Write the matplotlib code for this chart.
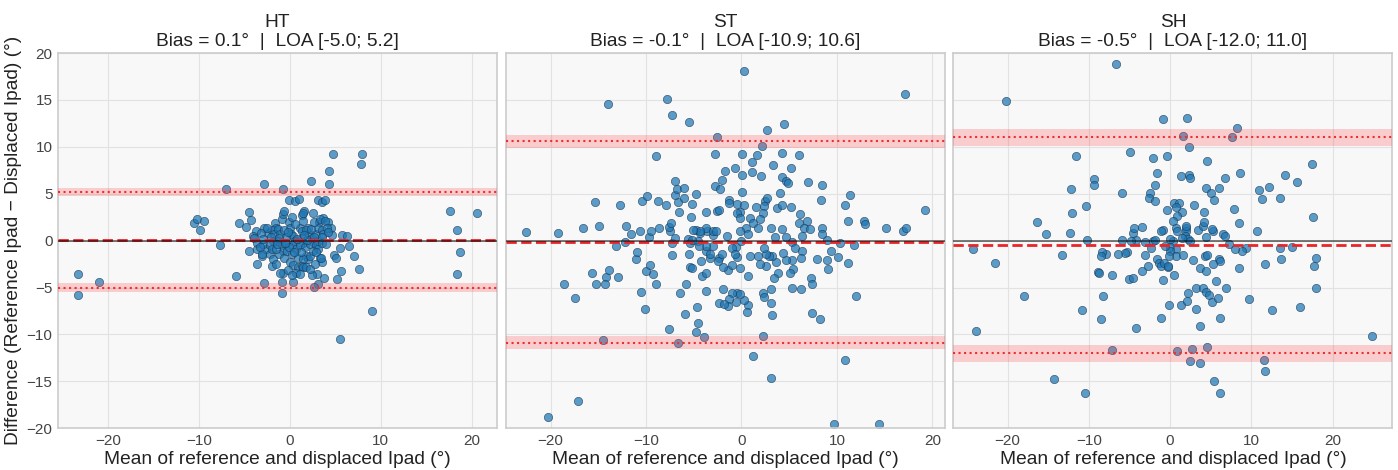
import numpy as np
import matplotlib
matplotlib.use("Agg")
import matplotlib.pyplot as plt

plt.rcParams['font.family'] = ['Liberation Sans', 'DejaVu Sans']

panel_names = ['HT', 'ST', 'SH']
bias = [0.1, -0.1, -0.5]
loa_low = [-5.0, -10.9, -12.0]
loa_high = [5.2, 10.6, 11.0]
# confidence band around each limit of agreement (lower, upper)
loa_low_ci = [(-5.45, -4.55), (-11.6, -10.2), (-12.9, -11.1)]
loa_high_ci = [(4.75, 5.65), (9.9, 11.3), (10.1, 11.9)]

# (mean, difference) pairs
ht_pts = np.array([
    (-23.3, -3.6), (-23.3, -5.8), (-21.0, -4.4), (-10.5, 1.9), (-10.2, 2.3), (-9.9, 1.1),
    (-9.4, 2.1), (-7.7, -0.5), (-7.0, 5.5), (-5.9, -3.8), (-5.6, 1.9), (-4.8, 1.5),
    (-4.5, 3.1), (-4.3, 2.2), (-4.5, -1.1), (-3.6, -2.5), (-2.8, 6.0), (-2.8, -4.5),
    (-0.7, 5.5), (-0.1, 4.3), (0.6, 4.2), (1.0, 4.4), (-0.9, -5.6), (-0.9, -4.4),
    (-0.7, -3.5), (0.4, -4.4), (2.3, 6.4), (1.6, 3.2), (2.6, 3.0), (3.1, 4.3), (3.6, 4.1),
    (3.9, 4.3), (4.3, 7.4), (4.3, 6.0), (4.8, 9.2), (7.9, 9.2), (7.8, 8.2), (3.7, 2.4),
    (4.2, 2.0), (4.5, 1.4), (4.6, 0.6), (5.8, 0.6), (6.3, 0.5), (6.5, -0.6), (5.5, -0.8),
    (4.9, -1.5), (5.1, -1.9), (7.1, -1.6), (7.6, -3.0), (5.6, -3.2), (5.2, -4.1), (3.8, -4.0),
    (3.0, -3.6), (2.5, -3.7), (3.1, -4.6), (2.7, -4.9), (3.3, -1.8), (3.5, -2.3), (9.0, -7.5),
    (5.5, -10.5), (17.6, 3.2), (18.4, 1.1), (18.7, -1.2), (18.4, -3.6), (20.6, 3.0),
    (-3.7, 1.0), (-4.0, 0.5), (-3.9, 0.3), (-3.6, -0.2), (-3.6, -0.9), (-3.1, -1.6),
    (-2.6, -0.9), (-2.9, -0.4), (-2.2, -1.4), (-2.4, 0.8), (-2.0, -2.7), (-1.8, -2.0),
    (-1.5, -2.5), (-1.6, 1.9), (-1.5, 1.4), (-1.9, 1.1), (-1.7, 0.7), (-1.3, 1.2),
    (-1.1, 0.7), (-0.9, 2.3), (-0.7, 2.8), (-0.6, 3.2), (-1.3, 0.0), (-0.9, -0.5),
    (-0.7, -1.1), (-1.2, -1.4), (-0.6, -1.8), (-0.3, -1.1), (-0.1, 2.0), (0.0, 1.4),
    (0.1, 0.7), (0.4, 0.5), (0.6, 0.0), (0.3, -0.5), (0.7, -0.9), (0.3, -1.4), (0.9, -1.8),
    (0.0, -2.3), (0.4, -2.6), (0.9, -2.8), (1.1, 1.4), (1.3, 1.0), (1.3, 0.3), (1.5, -0.2),
    (1.1, -0.5), (1.7, -0.7), (1.8, -1.6), (2.0, -2.0), (1.5, -2.0), (1.3, -2.7), (1.5, -2.8),
    (1.8, -2.8), (2.2, -1.6), (2.1, 0.7), (2.4, 0.3), (2.6, -0.1), (2.2, -0.4), (2.9, 0.7),
    (3.1, 0.0), (2.9, -0.5), (3.1, -0.9), (3.2, 2.0), (3.1, 1.4), (3.5, 1.1), (3.7, 0.7),
    (2.0, 1.4), (1.8, 1.1), (1.4, 2.7), (1.5, 3.0), (1.5, 2.1), (0.6, 1.8), (0.2, 2.5),
    (-0.6, 1.1), (-0.4, 0.4), (-1.8, 0.0), (-2.2, -0.5), (-3.0, -1.4), (-3.3, -0.7),
    (-1.1, -3.4), (0.7, -3.4), (-0.2, -3.1), (0.2, -3.7), (1.1, -3.6), (2.2, -3.0),
    (2.8, -2.5), (-2.8, 1.4), (-3.2, 0.8), (-2.5, 1.4), (-2.9, 0.2), (-1.9, -0.9),
    (-1.5, -0.9), (-0.4, -0.2), (-0.1, -0.7), (1.2, -1.2), (2.6, -1.1), (2.3, 1.2),
    (2.7, 2.0), (3.3, 2.3), (3.9, 2.1), (4.1, 1.4), (4.2, 0.9), (3.5, 0.4), (3.6, -0.2),
    (4.0, -0.4), (2.9, -1.2), (3.4, -1.8), (-1.2, 0.3), (-0.2, 0.9), (0.8, 0.2), (1.9, 0.1),
    (-2.1, 0.4), (-1.4, -0.4), (-0.5, -0.3), (0.5, -1.2), (1.6, 0.6), (2.7, 0.4),
])

st_pts = np.array([
    (-22.6, 0.9), (-19.2, 0.8), (-16.6, 1.3), (-15.3, 4.1), (-14.9, 1.6), (-14.0, 14.6),
    (-12.7, 3.8), (-12.1, 1.6), (-11.6, 0.7), (-12.2, -0.1), (-13.1, -0.6), (-15.7, -3.5),
    (-15.2, -4.6), (-14.2, -3.9), (-13.9, -3.1), (-14.3, -4.6), (-12.9, -3.9), (-18.6, -4.6),
    (-17.4, -6.1), (-20.3, -18.8), (-17.1, -17.1), (-14.5, -10.6), (-7.6, -9.4), (-6.6, -10.9),
    (-4.8, -9.7), (-3.9, -10.3), (-4.6, -8.8), (-4.7, -7.1), (-5.9, -7.8), (-10.1, -7.3),
    (-10.5, -5.5), (-9.0, -4.6), (-9.3, -3.6), (-10.0, -3.2), (-9.6, -2.6), (-11.0, -2.0),
    (-10.9, -1.2), (-9.7, 0.4), (-9.5, 1.0), (-10.6, 1.0), (-8.6, 1.3), (-10.4, 4.2),
    (-9.9, 4.8), (-8.9, 9.0), (-8.7, 4.2), (-7.9, 3.8), (-7.8, 15.1), (-7.3, 13.4),
    (-5.5, 12.7), (-2.6, 11.1), (-2.8, 9.2), (2.2, 10.1), (2.7, 11.8), (4.5, 12.4),
    (0.3, 18.1), (17.1, 15.6), (0.1, 9.2), (-0.7, 7.7), (0.1, 7.0), (1.1, 8.4), (1.6, 9.1),
    (1.1, 7.3), (2.0, 6.9), (3.3, 8.1), (4.3, 9.4), (5.2, 7.7), (6.0, 9.1), (4.2, 6.8),
    (4.7, 6.4), (4.9, 6.1), (7.0, 6.3), (8.4, 5.9), (8.3, 4.3), (11.4, 4.9), (10.8, 3.8),
    (11.2, 2.1), (12.8, 2.1), (12.9, 1.8), (15.1, 1.4), (16.9, 1.0), (17.2, 1.3), (19.2, 3.3),
    (10.3, -0.2), (11.8, -0.5), (11.2, -2.4), (10.1, -1.7), (9.4, -1.1), (9.0, 0.1),
    (9.0, -2.1), (9.1, -3.0), (7.9, -2.0), (7.3, -4.0), (7.4, -4.6), (7.4, -7.7), (8.2, -8.4),
    (12.0, -5.9), (10.8, -12.7), (9.7, -19.6), (14.4, -19.6), (3.1, -14.6), (1.2, -12.3),
    (2.3, -10.2), (3.2, -7.9), (3.1, -6.7), (3.1, -5.2), (2.3, -5.6), (2.4, -6.0),
    (0.7, -6.9), (0.3, -6.3), (0.6, -7.6), (-0.5, -5.6), (-0.1, -5.7), (-0.6, -6.5),
    (-1.0, -5.6), (-1.3, -6.2), (-1.4, -7.0), (-1.9, -5.2), (-2.3, -6.6), (-1.8, -6.8),
    (-3.7, -5.4), (-4.1, -3.8), (-3.7, -3.4), (-4.2, -2.2), (-5.4, -2.8), (-5.2, -2.9),
    (-5.8, -4.6), (-6.4, -5.6), (-7.3, -1.5), (-7.3, -0.3), (-7.0, 0.3), (-7.5, 1.0),
    (-7.6, 1.5), (-7.4, 1.9), (-6.5, 3.1), (-6.6, 4.1), (-7.0, 4.9), (-6.7, 5.5), (-6.0, 5.6),
    (-7.0, 6.4), (-6.0, 4.5), (-4.8, 5.0), (-5.2, 3.9), (-5.3, 2.5), (-4.8, 1.1), (-5.6, 0.2),
    (-5.4, -0.3), (-4.5, 0.0), (-5.5, -1.4), (-4.3, 0.8), (-3.7, 3.1), (-2.6, 3.2),
    (-2.8, 5.8), (-2.0, 6.5), (-1.7, 7.4), (-2.2, 5.5), (-1.3, 4.3), (-0.5, 3.9), (0.1, 5.2),
    (0.3, 3.8), (-0.2, 3.1), (-0.5, 2.9), (-0.2, 2.4), (0.9, 2.4), (1.2, 1.9), (0.5, 1.3),
    (-0.2, 1.0), (0.7, 0.7), (1.7, 1.3), (1.5, 3.6), (2.5, 4.2), (2.7, 4.6), (2.4, 3.7),
    (2.3, 2.9), (1.9, 2.3), (3.1, 1.3), (3.7, 3.5), (4.2, 3.8), (4.0, 5.1), (5.2, 3.6),
    (6.1, 2.8), (6.0, 1.9), (6.9, 2.1), (6.6, 1.3), (7.2, 1.2), (6.3, 0.5), (8.4, 1.4),
    (8.4, 0.7), (4.3, 1.2), (3.5, 0.4), (4.7, 0.4), (5.3, -0.1), (5.6, -0.8), (6.3, -1.1),
    (6.2, -1.9), (5.3, -2.1), (4.7, -2.1), (4.4, -1.3), (3.6, -2.3), (3.8, -3.5), (3.4, -4.0),
    (5.4, -3.0), (5.1, -3.4), (5.3, -5.1), (6.2, -5.2), (3.2, -1.6), (2.9, -1.6), (2.6, -1.4),
    (2.4, -0.8), (2.6, -2.7), (1.9, -2.5), (1.7, -1.6), (0.9, -1.6), (0.7, -3.8),
    (-0.1, -2.9), (-0.5, -1.7), (-0.6, -0.7), (-1.0, -0.8), (-1.5, 0.5), (-0.7, -1.4),
    (-1.4, -3.1), (-1.9, -2.8), (-1.0, -2.6), (-2.4, -1.8), (-2.5, -2.2), (-2.0, -1.4),
    (-3.0, -0.6), (-3.7, -1.1), (-3.7, -0.6), (-3.3, -1.9), (-3.0, 0.6), (-3.6, 1.0),
    (-3.7, 1.4), (-3.0, 1.0), (-2.7, 1.0), (-4.3, 1.0), (-5.1, 1.1), (-5.2, 0.1),
    (-4.4, -0.6), (-3.3, -1.4), (0.0, 0.0), (-1.3, 4.0), (-2.3, 3.3),
])

sh_pts = np.array([
    (-6.7, 18.8), (-20.2, 14.9), (-0.9, 13.0), (2.1, 13.1), (8.2, 12.0), (7.6, 11.0),
    (1.6, 11.2), (2.3, 10.0), (-11.6, 9.0), (-4.9, 9.5), (-2.1, 8.8), (-0.4, 9.0), (4.5, 8.5),
    (17.5, 8.2), (-1.6, 7.2), (1.4, 6.9), (2.3, 7.0), (2.5, 6.7), (6.7, 6.7), (8.6, 7.2),
    (14.2, 7.0), (15.6, 6.3), (-9.4, 6.6), (-9.4, 5.9), (-12.2, 5.5), (-5.9, 5.1),
    (-1.8, 5.9), (-2.5, 5.1), (-2.6, 4.6), (-1.8, 4.2), (4.4, 5.6), (5.0, 5.1), (6.0, 5.6),
    (5.4, 4.3), (10.9, 5.4), (12.2, 5.7), (11.3, 4.4), (13.5, 4.5), (-10.4, 3.7),
    (-12.1, 2.9), (-16.4, 2.0), (-15.3, 0.7), (-12.3, 0.8), (-10.2, 0.1), (-13.3, -1.5),
    (-21.6, -2.4), (-24.2, -0.9), (-18.0, -5.9), (-23.9, -9.6), (-10.8, -7.4), (-8.5, -8.4),
    (-8.2, -5.9), (-8.9, -3.3), (-8.7, -3.5), (-7.1, -3.7), (-5.1, -4.1), (-4.6, -4.0),
    (-4.2, -9.3), (-7.1, -11.7), (-14.3, -14.8), (-10.5, -16.2), (-3.4, -3.2), (-2.7, -2.7),
    (-3.1, -1.5), (-2.3, -0.8), (-1.6, -2.0), (-1.4, -2.4), (-1.1, -2.7), (-0.7, -2.4),
    (-0.3, -2.8), (0.5, -3.7), (-0.9, -4.2), (-0.1, -6.9), (-1.1, -8.2), (1.3, -6.9),
    (2.1, -6.4), (2.2, -5.6), (3.2, -5.0), (4.1, -5.1), (4.4, -5.5), (4.8, -5.8), (5.2, -6.5),
    (5.9, -6.1), (6.9, -5.1), (9.7, -6.2), (3.2, -7.3), (3.7, -9.1), (6.2, -8.3),
    (0.9, -11.8), (2.7, -11.6), (2.4, -12.8), (3.7, -13.1), (4.6, -11.3), (5.4, -15.0),
    (6.2, -16.2), (11.5, -12.7), (11.7, -13.9), (12.5, -7.4), (16.0, -7.1), (17.9, -5.1),
    (17.7, -2.7), (17.9, -1.8), (24.9, -10.2), (13.7, -2.0), (11.7, -2.5), (8.5, -2.9),
    (13.5, -0.8), (15.0, -0.7), (9.4, -0.8), (8.8, -1.1), (8.0, -0.9), (10.7, 1.0),
    (8.5, 1.9), (7.9, 3.4), (17.6, 2.5), (7.2, -0.4), (6.5, 0.7), (6.8, 0.5), (5.3, 1.0),
    (5.1, 1.2), (4.4, 0.4), (3.4, 1.1), (4.0, 1.6), (4.2, 2.0), (4.2, 3.1), (3.0, 3.8),
    (1.5, 3.1), (0.9, 2.6), (0.4, 2.1), (0.5, 4.0), (1.1, 4.0), (0.7, 3.6), (-0.4, 3.3),
    (0.7, 1.4), (0.8, 1.0), (2.0, 1.4), (2.0, 1.0), (1.8, 0.5), (2.2, 0.2), (2.5, 0.0),
    (0.4, 0.0), (0.0, 0.2), (-0.9, 1.1), (-1.1, 1.0), (0.0, -0.7), (0.7, -0.9), (0.0, -1.1),
    (0.7, -1.6), (1.6, -1.5), (2.8, -2.1), (3.7, -2.9), (4.4, -3.2), (4.3, -1.6), (4.5, -1.5),
    (6.0, -2.0), (6.2, -2.2), (5.3, -2.5), (5.7, -4.3), (-0.1, -1.6), (-0.3, -2.7),
    (-2.1, 0.0), (-3.1, -0.1), (-4.2, 0.1), (-4.8, 0.0), (-4.6, 0.8), (-4.5, 1.4),
    (-3.4, 1.5), (-5.3, -1.2), (-5.5, -1.3), (-6.4, -1.4), (-5.9, 0.1), (-7.9, -1.4),
    (-8.4, -1.2), (-8.5, -1.6), (1.9, 1.6), (1.5, 0.3), (-1.9, 0.1), (-0.6, -0.6),
])

panel_pts = [ht_pts, st_pts, sh_pts]

fig, axes = plt.subplots(1, 3, figsize=(13.98, 4.7), dpi=100, sharey=True)
fig.subplots_adjust(left=0.0415, right=0.996, top=0.887, bottom=0.089, wspace=0.02)

for i, ax in enumerate(axes):
    pts = panel_pts[i]
    ax.set_facecolor('#f8f8f8')
    ax.grid(True, color='#e2e2e2', linewidth=0.8)
    ax.set_axisbelow(True)
    for sp in ax.spines.values():
        sp.set_color('#cccccc')
        sp.set_linewidth(1.2)

    ax.scatter(pts[:, 0], pts[:, 1], s=36, color='#1f77b4', alpha=0.72,
               edgecolors='#1b3550', linewidths=0.5, zorder=2)

    ax.axhline(bias[i], color='#e8262a', linestyle='--', linewidth=2, zorder=3)
    ax.axhline(0, color='black', linewidth=1.2, alpha=0.6, zorder=4)
    ax.axhline(loa_low[i], color='#e8262a', linestyle=':', linewidth=1.5, zorder=3)
    ax.axhline(loa_high[i], color='#e8262a', linestyle=':', linewidth=1.5, zorder=3)
    ax.axhspan(*loa_low_ci[i], color='#ff4d4d', alpha=0.25, linewidth=0, zorder=3)
    ax.axhspan(*loa_high_ci[i], color='#ff4d4d', alpha=0.25, linewidth=0, zorder=3)

    ax.set_title(f'{panel_names[i]}\nBias = {bias[i]:.1f}°  |  LOA [{loa_low[i]:.1f}; {loa_high[i]:.1f}]',
                 fontsize=13.8, color='#222222', pad=5)
    ax.set_xlabel('Mean of reference and displaced Ipad (°)', fontsize=13.8, color='#222222', labelpad=2)
    ax.set_xticks([-20, -10, 0, 10, 20])
    ax.tick_params(labelsize=11, colors='#444444', length=0, pad=4)

axes[0].set_ylim(-20, 20)
axes[0].set_yticks(np.arange(-20, 21, 5))
axes[0].set_ylabel('Difference (Reference Ipad − Displaced Ipad) (°)', fontsize=13.8, color='#222222', labelpad=3)

plt.savefig('out.png')
plt.close()
